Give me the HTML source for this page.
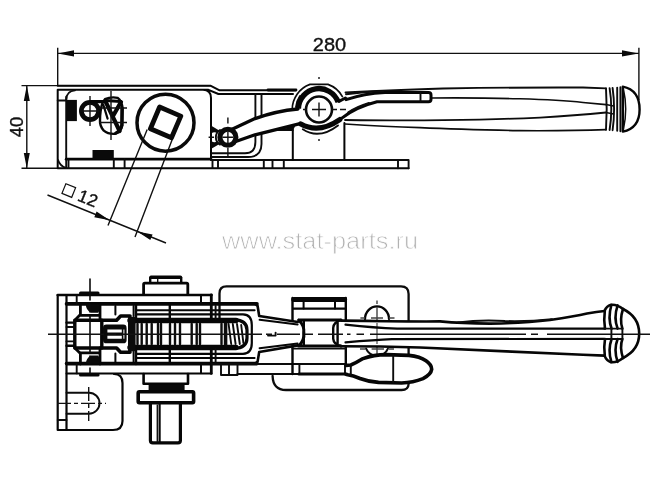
<!DOCTYPE html>
<html>
<head>
<meta charset="utf-8">
<title>Latch clamp drawing</title>
<style>
html,body{margin:0;padding:0;background:#fff;}
body{width:650px;height:487px;overflow:hidden;font-family:"Liberation Sans",sans-serif;}
svg{display:block;position:absolute;left:0;top:0;filter:blur(0.35px);}
text{font-family:"Liberation Sans",sans-serif;}
.t{stroke:#111;stroke-width:1.4;fill:none;}
.m{stroke:#0c0c0c;stroke-width:1.9;fill:none;stroke-linejoin:round;stroke-linecap:round;}
.k{stroke:#060606;stroke-width:2.8;fill:none;stroke-linejoin:round;stroke-linecap:round;}
.f{fill:#0a0a0a;stroke:none;}
.w{fill:#fff;}
</style>
</head>
<body>
<svg width="650" height="487" viewBox="0 0 650 487">
<rect x="0" y="0" width="650" height="487" fill="#ffffff"/>

<!-- ================= DIMENSIONS ================= -->
<g id="dims">
  <!-- 280 -->
  <path class="t" d="M57.7 47.8 V86 M638.9 47.8 V100 M57.7 53.4 H638.7"/>
  <path class="f" d="M57.7 53.4 L74 50.2 V56.6 Z M638.7 53.4 L622 50.2 V56.6 Z"/>
  <text x="312.8" y="50.6" font-size="19" fill="#111" stroke="#111" stroke-width="0.35" textLength="33.4" lengthAdjust="spacingAndGlyphs">280</text>
  <!-- 40 -->
  <path class="t" d="M21.5 85.6 H211 M21.5 168.3 H58 M26.8 85.6 V168.3"/>
  <path class="f" d="M26.8 85.6 L23.8 101 H29.8 Z M26.8 168.3 L23.8 153 H29.8 Z"/>
  <text transform="translate(22.8 137.2) rotate(-90)" font-size="17.5" fill="#111" stroke="#111" stroke-width="0.35" textLength="20.4" lengthAdjust="spacingAndGlyphs">40</text>
  <!-- square 12 -->
  <path class="t" d="M47.5 195 L166 243 M147.2 129.5 L108 225.5 M172.4 139 L135 237"/>
  <path class="f" d="M109.6 220.2 L94.3 217.2 L96.6 211.6 Z M137.3 231.4 L152.6 234.4 L150.3 240 Z"/>
  <g transform="translate(62.5 183.5) rotate(22)">
    <rect x="3.2" y="-1.1" width="10.5" height="10.5" fill="none" stroke="#111" stroke-width="1.2"/>
    <text x="19.4" y="10.3" font-size="17.5" fill="#111" stroke="#111" stroke-width="0.35">12</text>
  </g>
</g>

<!-- ================= WATERMARK ================= -->
<text x="320" y="248.6" font-size="23" text-anchor="middle" fill="#b2b2b2" stroke="#ffffff" stroke-width="0.8" textLength="196" lengthAdjust="spacingAndGlyphs">www.stat-parts.ru</text>

<!-- ================= TOP VIEW ================= -->
<g id="topview">
  <!-- box outer -->
  <path class="k" style="stroke-width:2" d="M57.7 89.8 H208.5 L218.4 94 H293 M203 89.8 Q211 90 211 98 V160 M57.7 89.8 V168.3 H408.6"/>
  <path class="m" d="M66.2 97 V168 M57.7 100.5 H66.2"/>
  <!-- inner rounded rect -->
  <path class="m" d="M66.2 100 Q66.2 91 75 90.4"/>
  <path class="k" style="stroke-width:2.8" d="M66.2 159.2 H211"/>
  <path class="m" d="M211 160 H398 M68.5 159 V168 M113.8 159 V168 M124.6 159 V168 M58 160 Q60 166 66 168"/>
  <rect class="f" x="66.2" y="99.9" width="10.7" height="21.2"/>
  <rect class="f" x="92.5" y="150" width="21.3" height="9"/>
  <!-- small ring -->
  <circle cx="90" cy="111" r="8.6" stroke="#0a0a0a" stroke-width="4.8" fill="none"/>
  <path class="t" d="M90 96 V126 M79 111 H101"/>
  <path class="k" style="stroke-width:3.2" d="M91 101.6 H106"/>
  <!-- cam blob -->
  <path class="k" style="stroke-width:2.4" d="M105 99.2 Q111 96.4 117.5 97.8 Q122 100.6 122.6 109 L122.2 125.5 Q120.5 132.5 115 133.8 Q108 134.2 103.8 130.6 Q99.6 126 100 120.5 Q100 110 102.5 103 Z"/>
  <path class="k" style="stroke-width:4.2" d="M105.4 101.2 L112.6 116.4 L119.6 131 M121 102 L113 116"/>
  <path class="k" style="stroke-width:3" d="M105.5 100.6 L120.6 101.6"/>
  <path class="k" style="stroke-width:3.4" d="M122 108 L121.8 125.4 Q120.4 131.4 116 133"/>
  <path class="k" style="stroke-width:2.2" d="M103.4 105 L107.6 118.6"/>
  <path class="t" d="M111 91 V140 M99 108 H127 M99 122.5 H127"/>
  <!-- big circle w/ square -->
  <circle cx="165.5" cy="122.7" r="28.5" stroke="#0a0a0a" stroke-width="3.5" fill="none"/>
  <path d="M159.6 107 L180.8 116.1 L171.5 137.8 L150.4 128.7 Z" stroke="#0a0a0a" stroke-width="4.8" fill="none" stroke-linejoin="round"/>
  <!-- slant and middle section -->
  <path class="k" style="stroke-width:1.9" d="M57.7 85.7 H210.4 L219.6 90.3 H296"/>
  <path class="k" style="stroke-width:2.8" d="M268 90 H296"/>
  <path class="m" d="M255.4 94 V142 Q255.4 153.3 245 153.3 H211.7 M261.5 94 V144 Q261.5 157 248 157 H211.7"/>
  <path class="m" d="M212.5 160 V168 M218 160 V168 M263.8 160 V168 M272.5 160 V168 M283.8 160 V168"/>
  <!-- hidden circle behind small pivot -->
  <path class="f" d="M211.3 125.8 L220.4 131.2 L217 133 Q214 131.4 211.3 133.6 Z M211.3 148.8 L220.4 143.4 L217 141.6 Q214 143.2 211.3 141 Z"/><path class="m" d="M220 130 A8.5 8.5 0 0 0 220 144.6"/>
  <path class="t" d="M208.6 137.3 H214 M227.9 117.6 V123.4"/>
  <!-- verticals around big pivot -->
  <path class="k" style="stroke-width:2" d="M292.8 130 V160 M344.4 123 V160"/>
  <path class="m" d="M262 130 H292.8"/>
  <path class="f" d="M283 129.4 L296 124.5 L293 130.4 Z"/>
  <!-- arm -->
  <path d="M233 126 L255 117.5 L275 111 L300 107.5 L304 124 L275 130.5 L255 135.5 L236 143 Z" fill="#fff" stroke="none"/>
  <path class="k" style="stroke-width:3.3" d="M232.6 129 L255 118.6 Q276 111 298 109 M235 141.8 L255 134.8 Q276 129.6 290 126.2 L300 123.6"/>
  <!-- small pivot -->
  <circle cx="227.9" cy="137.3" r="8" stroke="#0a0a0a" stroke-width="5.1" fill="#fff"/>
  <path class="t" d="M227.9 131.5 V143 M222.4 137.3 H233.4 M227.9 148 V156"/>
  <!-- big pivot -->
  <path class="m" style="stroke-width:1.7" d="M292.2 109.6 A26.7 26.7 0 0 1 310 84.4 L328 84.4 A26.7 26.7 0 0 1 342.4 96.6"/>
  <path class="m" d="M296 107 A23 23 0 0 1 300 96"/>
  <path class="k" style="stroke-width:5.4;stroke-linecap:butt" d="M298.4 108.6 A20.5 20.5 0 0 1 338.2 102.2"/>
  <path class="k" style="stroke-width:3" d="M339 101.4 L345.4 98"/>
  <path class="k" style="stroke-width:5.2" d="M300.8 124 Q319 134 339.8 119.6"/>
  <path class="m" d="M302.8 129.3 Q319 140 338 125.4"/>
  <circle cx="319" cy="109.5" r="13" stroke="#0a0a0a" stroke-width="2.6" fill="#fff"/>
  <path class="t" d="M319 102.5 V116.5 M312 109.5 H326 M319 77 V79 M319 139 V141 M303 109.5 H306 M332 109.5 H337 M340 109.5 H346"/>
  <!-- handle (top view) -->
  <g id="handleTop">
  <!-- outer edges -->
  <path class="m" d="M345.5 92.5 Q383 90.4 443 88.5 Q520 87.2 583 87.5 L606 88.4"/>
  <path class="m" style="stroke-width:1.7" d="M345 124 Q385 126.6 420 127.6 Q460 129.4 520 130.7 Q570 131 606 129.7"/>
  <!-- inner lines -->
  <path class="m" style="stroke-width:1.6" d="M431 98 Q480 97.6 520 98.8 Q560 100 583 102.5 L606 104.6"/>
  <path class="m" style="stroke-width:1.8" d="M345 120 Q400 120.8 443 120.2 Q500 119.4 540 117.6 Q575 115.4 606 112.5"/>
  <!-- curved bar -->
  <path class="k" style="stroke-width:3" d="M346 99.6 Q364 93.4 385 92.4 H428.5 Q431 92.4 431 95 V99.2 Q431 101.8 428.5 101.8 H377 Q356 107 341.5 118.4"/>
  <path class="m" d="M420.5 92.4 V101.8 M348.3 112.4 Q357 106.6 369 103 M346 94.2 Q364 92 383 91"/>
  <!-- grip -->
  <path class="m" d="M606 88.4 Q607.4 109 606 129.7 M609.6 88.2 Q613 109 609.6 130 M612.6 88 Q615.6 109 612.6 130.2 M617.2 87.6 V130.8 M620.4 87.2 V131.2"/>
  <path class="k" style="stroke-width:2.4" d="M622.8 86.6 V131.6 M622.8 86.6 Q639.6 90 639.6 109.4 Q639.6 128 622.8 131.6"/>
  <path class="m" style="stroke-width:1.5" d="M623.4 89 Q628 109 623.4 129.6"/>
  <path class="m" style="stroke-width:1.5" d="M606 104.6 L613.5 106 M606 112.5 L613.5 114"/>
  </g>
  <!-- base plate right end -->
  <path class="m" d="M398 160 V168.3 M408.6 160 V168.3 M398 160 H408.6"/>
</g>

<!-- ================= BOTTOM VIEW ================= -->
<g id="bottomview">
  <!-- plate outline -->
  <path class="m" style="stroke-width:2.3" d="M219.5 320 V293.5 Q219.5 286.4 226.5 286.4 H401 Q408.6 286.4 408.6 294 V384 Q408.4 390 401.6 390 H286 Q273 390 272.6 376"/>
  <!-- left bracket -->
  <path class="k" style="stroke-width:2.6" d="M57.7 295 H211.5"/><path class="k" style="stroke-width:2.2" d="M57.7 295 V430 H113 Q122.5 430 122.5 421 V383 Q122.5 374 114 374"/>
  <path class="k" style="stroke-width:2.2" d="M66.5 295 V430"/>
  <path class="m" d="M57.7 420 H66.5"/>
  <!-- slot -->
  <path class="m" d="M66.5 392.7 H89 A10.5 10.5 0 0 1 89 413.7 H66.5"/>
  <path class="t" d="M57 403.4 H106 M88.7 387 V421" stroke-dasharray="14 3 4 3"/>
  <!-- body horizontals -->
  <path class="k" style="stroke-width:3.6" d="M66.5 303.9 H257 M66.5 363.6 H257"/>
  <path class="k" style="stroke-width:2" d="M66.5 373.4 H211.5 M201 295 V304 M201 364 V373.4"/>
  <path class="m" d="M76.7 295 V304 M76.7 364 V373.4"/>
  <!-- top shaft -->
  <path class="k" style="stroke-width:2.8" d="M143.6 294.5 V284.4 Q143.6 283.2 144.8 283.2 H186.6 Q187.8 283.2 187.8 284.4 V294.5"/>
  <path class="k" style="stroke-width:2.4" d="M150.2 282 V278 M181.2 282 V278"/>
  <path class="k" style="stroke-width:3.6" d="M151 277.2 H180.4"/>
  <path class="t" d="M157.7 279 V282"/>
  <!-- bottom shaft -->
  <path class="k" style="stroke-width:2.6" d="M143.6 374 V383.8 H188 V374"/>
  <rect class="f" x="148.6" y="384.6" width="36" height="6.6"/>
  <path class="k" style="stroke-width:3.6" d="M139.4 391.8 H192.4 Q193.6 391.8 193.6 393 V401.6 Q193.6 402.8 192.4 402.8 H139.4 Q138.2 402.8 138.2 401.6 V393 Q138.2 391.8 139.4 391.8 Z"/>
  <path class="k" style="stroke-width:3.2" d="M150.4 404 V440.4 Q150.4 442.8 152.8 442.8 H178 Q180.4 442.8 180.4 440.4 V404"/>
  <path class="k" style="stroke-width:2.2" d="M159.6 404.5 V442"/><path class="t" d="M157.3 404.5 V442"/>
  <!-- housing horizontals -->
  <path class="k" style="stroke-width:2.6" d="M256 304.6 L257.6 306 L259.2 316 L297.8 322 M256 363 L257.6 361.6 L259.2 352 L297.8 345.4"/>
  <path class="k" style="stroke-width:2" d="M136 310.2 H254.6 M136 358.1 H254.6"/>
  <path class="k" style="stroke-width:2.2" d="M136 314.4 H243 Q251.8 314.6 251.8 325 V343 Q251.8 353.6 243 353.9 H136"/>
  <path class="k" style="stroke-width:2" d="M259.6 319.8 L297.6 324.4 M259.6 348.2 L297.6 343.4"/>
  <path class="m" d="M268 335.6 H275.6 V332.6"/>
  <path class="k" style="stroke-width:5.4" d="M130 320.5 H236 M130 347.5 H236"/><path class="k" style="stroke-width:3.2" d="M234 319.6 Q247 320 247 330 V338 Q247 348 234 348.5"/>
  <path class="k" style="stroke-width:2.4" d="M169.8 305 V319 M169.8 349 V363 M136 304 V319 M136 349 V364"/>
  <path class="k" style="stroke-width:2.8" d="M211.3 295 V319 M211.3 349 V373.4"/><path class="m" d="M215.6 306 V319 M215.6 349 V362"/>
  <!-- spring block left -->
  <rect class="f" x="128" y="316.8" width="7.6" height="34.6" rx="1"/>
  <!-- spring coils -->
  <path class="m" style="stroke-width:2.4" d="M137.5 324 V344 M141.7 324 V344 M146.7 324 V344 M151.7 324 V344 M158 324 V344 M161 324 V344 M170 324 V344 M175 324 V344 M180 324 V344 M191.7 324 V344 M196.7 324 V344 M200 324 V344 M221.5 324 V344 M225 324 V344"/>
  <!-- end spring coil -->
  <path class="m" d="M228.6 324 L231.2 344 M232.8 324 L235.6 344 M237 324 L239.8 344 M241.2 325 L243.4 343"/>
  <path class="m" d="M226.4 323 V345"/>
  <!-- cross body -->
  <path class="k" style="stroke-width:3.4" d="M74.8 320.2 H101.8 V348 H74.8 Z"/>
  <path class="k" style="stroke-width:2.8" d="M80.4 304 V314.6 L74.8 320.2 M100 304 V320 M80.4 364 V353.6 L74.8 348 M100 364 V348 M80.4 315.4 H100 M80.4 352.8 H100"/>
  <path class="k" style="stroke-width:2.4" d="M66.5 322.6 H75 M66.5 345.8 H75"/>
  <path class="m" d="M66.5 327 H75 M66.5 341.4 H75"/>
  <path class="f" d="M85.8 304.4 H99.6 Q100.6 310 98 312.8 H91 Q86 310 85.8 304.4 Z M85.8 363.8 H99.6 Q100.6 358 98 355.4 H91 Q86 358 85.8 363.8 Z"/>
  <path class="k" style="stroke-width:3.2" d="M80.6 293.2 H98 M80.6 375 H98"/>
  <path class="m" style="stroke-width:1.6" d="M90 279 V300 M90 304 V312 M90 316 V352 M90 356 V364 M90 368 V373"/>
  <!-- bolt -->
  <rect class="f" x="103" y="324.5" width="23.6" height="18.8" rx="3.4"/>
  <path class="w" d="M107.4 329.4 H121.8 V332.4 H107.4 Z M107.4 335.8 H121.8 V338.8 H107.4 Z M123.4 329.4 H124.4 V338.8 H123.4 Z"/>
  <!-- housing step near bolt -->
  <path class="k" style="stroke-width:3.6" d="M101.8 320.2 H116.6 L120.6 316 H130 M101.8 348 H116.6 L120.6 352.2 H130"/>
  <path class="k" style="stroke-width:2" d="M115.4 306 V314.6 M133.6 306 V316 M115.4 362 V353.6 M133.6 362 V352"/>
  <!-- small squares right of body -->
  <path class="m" d="M221 364 H237.5 V375 H221 Z M229 364 V375"/>
  <!-- bottom bar -->
  <path class="m" d="M211.5 364 H346 M237.5 374 H346"/>

  <!-- cylinder block -->
  <g id="block">
  <rect x="293.4" y="300" width="51.6" height="19" fill="#fff"/>
  <path class="k" style="stroke-width:5" d="M293.8 299.6 H344.6"/>
  <path class="k" style="stroke-width:2.4" d="M292.5 298 V320 M345.8 298 V320 M292.5 347 V374 M345.8 347 V364 M292.5 308.6 H345.8"/>
  <path class="k" style="stroke-width:2" d="M303.6 302 V308.6 M335 302 V308.6"/>
  <path class="m" d="M292.5 348.6 H345.8 M299.4 364.6 V373.6 M345 364.6 V373.6 M351.5 365 V374"/>
  <!-- spool -->
  <path class="k" style="stroke-width:3" d="M298.6 320 H341 M298.6 346 H341 M298.6 320 Q304.8 326 303.8 333 Q304.8 340 298.6 346"/>
  <path class="k" style="stroke-width:2.4" d="M303.8 321 V345 M341 320 Q333.6 322 333.2 328 V338.6 Q333.6 344.4 341 346 M337.6 322.4 V343.8"/>
  <path class="k" style="stroke-width:3.2" d="M299 374 H345"/>
  </g>
  <!-- slot hole in plate -->
  <path class="k" style="stroke-width:2.3" d="M365 319 A12 12.6 0 0 1 389 319"/><path class="m" d="M366 348.5 A12 12 0 0 0 388 348.5"/>
  <path class="t" style="stroke:#444" d="M377 300.5 V304 M377 307 V322 M377 326 V342 M377 346 V367 M360.4 318 H365 M371 318 H383 M389 318 H394.5 M360 349 H365.4 M371.6 349 H384 M389 349 H394"/>
  <!-- handle (bottom view) -->
  <g id="handleBot">
  <path d="M346.5 320.6 Q400 321.6 440 321.4 Q462 323.4 490 323.6 Q525 323 550 320 Q575 316.4 587 313.6 Q597 311.6 604.5 311 L604.5 355.6 L583 354.8 Q500 350.9 420 347.5 Q380 346.2 346.5 346.2 Z" fill="#fff" stroke="none"/>
  <path class="t" style="stroke:#666" d="M377 323 V344"/>
  <path class="k" style="stroke-width:2.6" d="M341 320.6 Q400 321.6 440 321.4 Q462 323.4 490 323.6 Q525 323 550 320 Q575 316.4 587 313.6 Q597 311.6 604.5 311"/>
  <path class="m" d="M458 322.4 Q480 319.6 505 321 Q530 321.6 552 319.2"/>
  <path class="k" style="stroke-width:2.6" d="M341 346.2 Q380 346.2 420 347.5 Q500 350.9 583 354.8 L604.5 355.6"/>
  <path class="k" style="stroke-width:2.2" d="M345.5 324.6 Q375 327.8 397 328.7 L604 328.7 M345.5 342.4 Q375 340 392 339.2 L604 338.8"/>
  <!-- grip end -->
  <path class="k" style="stroke-width:2.6" d="M604.5 311 Q606.5 306 611 304.8 Q617 304.2 623 309 M604.5 355.6 Q606.5 360.8 611 362.2 Q617 362.8 623 358"/>
  <path class="k" style="stroke-width:2.6" d="M623 309 Q639.2 317 639.2 333.6 Q639.2 350 623 358"/>
  <path class="k" style="stroke-width:2.6" d="M604.8 311 Q603.6 320 605 328.6 M604.8 355.6 Q603.6 347 605 339 M611.4 305 Q607.6 318 611.6 328.6 M611.4 362 Q607.6 350 611.6 339 M617.6 305.4 Q613.4 318 617.6 328.6 M617.6 361.8 Q613.4 350 617.6 339 M623 309 Q619.4 320 622.4 328.6 M623 358 Q619.4 347 622.4 339"/>
  <path class="m" d="M604 328.6 H622.4 M604 339 H622.4 M611.4 328.6 V339 M622.4 328.6 V339"/>
  </g>
  <!-- release lever -->
  <path class="k" style="stroke-width:3.6;fill:#fff" d="M346 365.4 L350.8 365 Q356 363 363 358.6 Q374 354.6 386 354.6 L409 355.4 Q420 356.6 426 360.8 Q431.6 364.6 431.7 369.3 Q431 374.6 423 378.6 Q413 382.6 401.6 383 L378.5 382.4 Q368 381.6 360 378.5 Q353 375.4 347.7 374.7 L346 374.2"/>
  <path class="m" d="M393.2 355 V382.6 M350.8 365 V374.8"/>
  <!-- center line -->
  <path class="t" d="M48 334.2 H104 M108 334.2 H116 M120 334.2 H262 M266 334.2 H272 M277 334.2 H300 M305 334.2 H313 M318 334.2 H343 M347 334.2 H350.5 M356.5 334.2 H364 M370 334.2 H526 M531 334.2 H538 M547 334.2 H650"/>
</g>
</svg>
</body>
</html>
